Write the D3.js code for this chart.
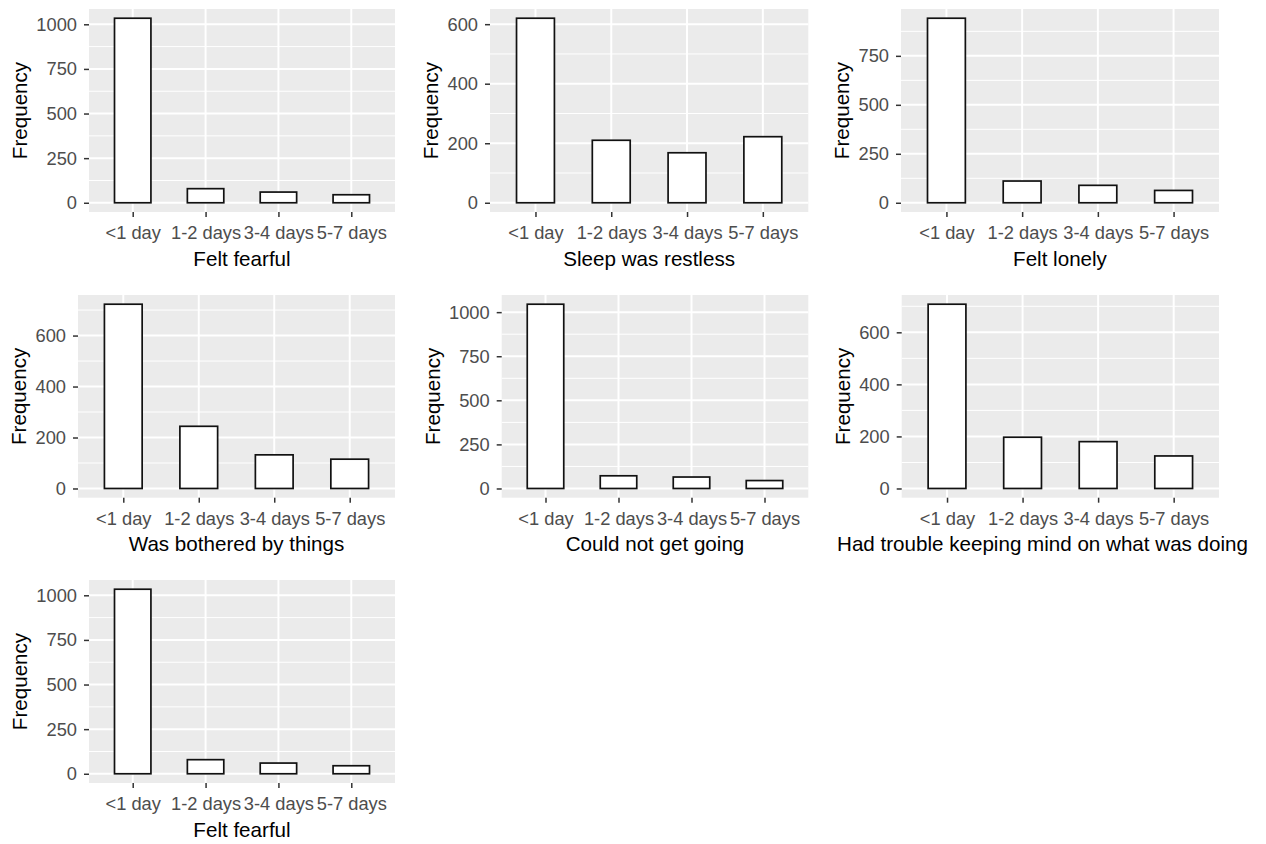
<!DOCTYPE html>
<html>
<head>
<meta charset="utf-8">
<script src="https://cdn.jsdelivr.net/npm/d3@7"></script>
<style>
  html, body { margin: 0; padding: 0; background: #ffffff; }
  svg { display: block; }
  text { font-family: "Liberation Sans", Arial, sans-serif; }
</style>
</head>
<body>
<svg id="chart" width="1266" height="844"></svg>
<script>
// Response categories shared by every item
const categories = ["<1 day", "1-2 days", "3-4 days", "5-7 days"];

// Frequencies per item
const feltFearful        = [1034, 79, 60, 45];
const sleepRestless      = [620, 210, 168, 222];
const feltLonely         = [942, 111, 89, 63];
const botheredByThings   = [723, 244, 132, 115];
const couldNotGetGoing   = [1045, 72, 65, 45];
const troubleKeepingMind = [708, 197, 180, 125];

// Y-axis tick labels
const ticks1000 = [0, 250, 500, 750, 1000];
const ticks600  = [0, 200, 400, 600];
const ticks750  = [0, 250, 500, 750];

// Item titles
const titles = [
  "Felt fearful",
  "Sleep was restless",
  "Felt lonely",
  "Was bothered by things",
  "Could not get going",
  "Had trouble keeping mind on what was doing",
  "Felt fearful"
];

const panels = [
  { values: feltFearful,        ticks: ticks1000, title: titles[0], box: [89, 9, 395, 212] },
  { values: sleepRestless,      ticks: ticks600,  title: titles[1], box: [490, 9, 808.3, 212] },
  { values: feltLonely,         ticks: ticks750,  title: titles[2], box: [901, 9, 1219, 212] },
  { values: botheredByThings,   ticks: ticks600,  title: titles[3], box: [78, 295, 395, 497.7] },
  { values: couldNotGetGoing,   ticks: ticks1000, title: titles[4], box: [501.7, 295, 808.3, 497.7] },
  { values: troubleKeepingMind, ticks: ticks600,  title: titles[5], box: [901.7, 295, 1219, 497.7] },
  { values: feltFearful,        ticks: ticks1000, title: titles[6], box: [89, 580, 395, 783] }
];

const svg = d3.select("#chart");
const TICK_FONT = 18.3, TITLE_FONT = 20.6;
const FIG_RIGHT = 1248;

panels.forEach(p => {
  const [x0, y0, x1, y1] = p.box;
  const w = x1 - x0, h = y1 - y0;
  const vmax = d3.max(p.values);

  const x = d3.scalePoint().domain(categories).range([0, w]).padding(0.6);
  const y = d3.scaleLinear().domain([-0.05 * vmax, 1.05 * vmax]).range([h, 0]);

  const g = svg.append("g").attr("transform", `translate(${x0},${y0})`);

  // panel background
  g.append("rect").attr("width", w).attr("height", h).attr("fill", "#EBEBEB");

  // minor horizontal grid
  const step = p.ticks[1] - p.ticks[0];
  const [dlo, dhi] = y.domain();
  const minors = [];
  for (let v = p.ticks[0] - step / 2; v <= dhi; v += step) {
    if (v >= dlo) minors.push(v);
  }
  g.selectAll(".minor").data(minors).enter().append("line")
    .attr("x1", 0).attr("x2", w)
    .attr("y1", d => y(d)).attr("y2", d => y(d))
    .attr("stroke", "#ffffff").attr("stroke-width", 1);

  // major horizontal grid
  g.selectAll(".majorY").data(p.ticks).enter().append("line")
    .attr("x1", 0).attr("x2", w)
    .attr("y1", d => y(d)).attr("y2", d => y(d))
    .attr("stroke", "#ffffff").attr("stroke-width", 2);

  // major vertical grid
  g.selectAll(".majorX").data(categories).enter().append("line")
    .attr("y1", 0).attr("y2", h)
    .attr("x1", d => x(d)).attr("x2", d => x(d))
    .attr("stroke", "#ffffff").attr("stroke-width", 2);

  // bars
  const bw = x.step() * 0.5;
  g.selectAll(".bar").data(categories.map((c, i) => ({ c, v: p.values[i] })))
    .enter().append("rect")
    .attr("x", d => x(d.c) - bw / 2)
    .attr("width", bw)
    .attr("y", d => y(d.v))
    .attr("height", d => y(0) - y(d.v))
    .attr("fill", "#ffffff")
    .attr("stroke", "#111111")
    .attr("stroke-width", 1.7);

  // y axis
  const ya = g.append("g").call(
    d3.axisLeft(y).tickValues(p.ticks).tickSize(5).tickPadding(7).tickFormat(d3.format("d"))
  );
  ya.select(".domain").remove();
  ya.selectAll(".tick line").attr("stroke", "#333333").attr("stroke-width", 1.5);
  ya.selectAll(".tick text")
    .attr("fill", "#4D4D4D").attr("font-size", TICK_FONT)
    .style("font-family", "'Liberation Sans', Arial, sans-serif");

  // x axis
  const xa = g.append("g").attr("transform", `translate(0,${h})`).call(
    d3.axisBottom(x).tickSize(5).tickPadding(9)
  );
  xa.select(".domain").remove();
  xa.selectAll(".tick line").attr("stroke", "#333333").attr("stroke-width", 1.5);
  xa.selectAll(".tick text")
    .attr("fill", "#4D4D4D").attr("font-size", TICK_FONT)
    .style("font-family", "'Liberation Sans', Arial, sans-serif");

  // y title placed left of the widest tick label
  let maxW = 0;
  ya.selectAll(".tick text").each(function () {
    maxW = Math.max(maxW, this.getComputedTextLength());
  });
  const ty = -12 - maxW - 9;
  g.append("text")
    .attr("transform", `translate(${ty},${h / 2}) rotate(-90)`)
    .attr("text-anchor", "middle")
    .attr("font-size", TITLE_FONT)
    .attr("fill", "#000000")
    .text("Frequency");

  // x title, kept inside the figure
  const xt = g.append("text")
    .attr("y", h + 53.5)
    .attr("text-anchor", "middle")
    .attr("font-size", TITLE_FONT)
    .attr("fill", "#000000")
    .text(p.title);
  const tw = xt.node().getComputedTextLength();
  let cx = w / 2;
  if (x0 + cx + tw / 2 > FIG_RIGHT) cx = FIG_RIGHT - x0 - tw / 2;
  xt.attr("x", cx);
});
</script>
</body>
</html>
